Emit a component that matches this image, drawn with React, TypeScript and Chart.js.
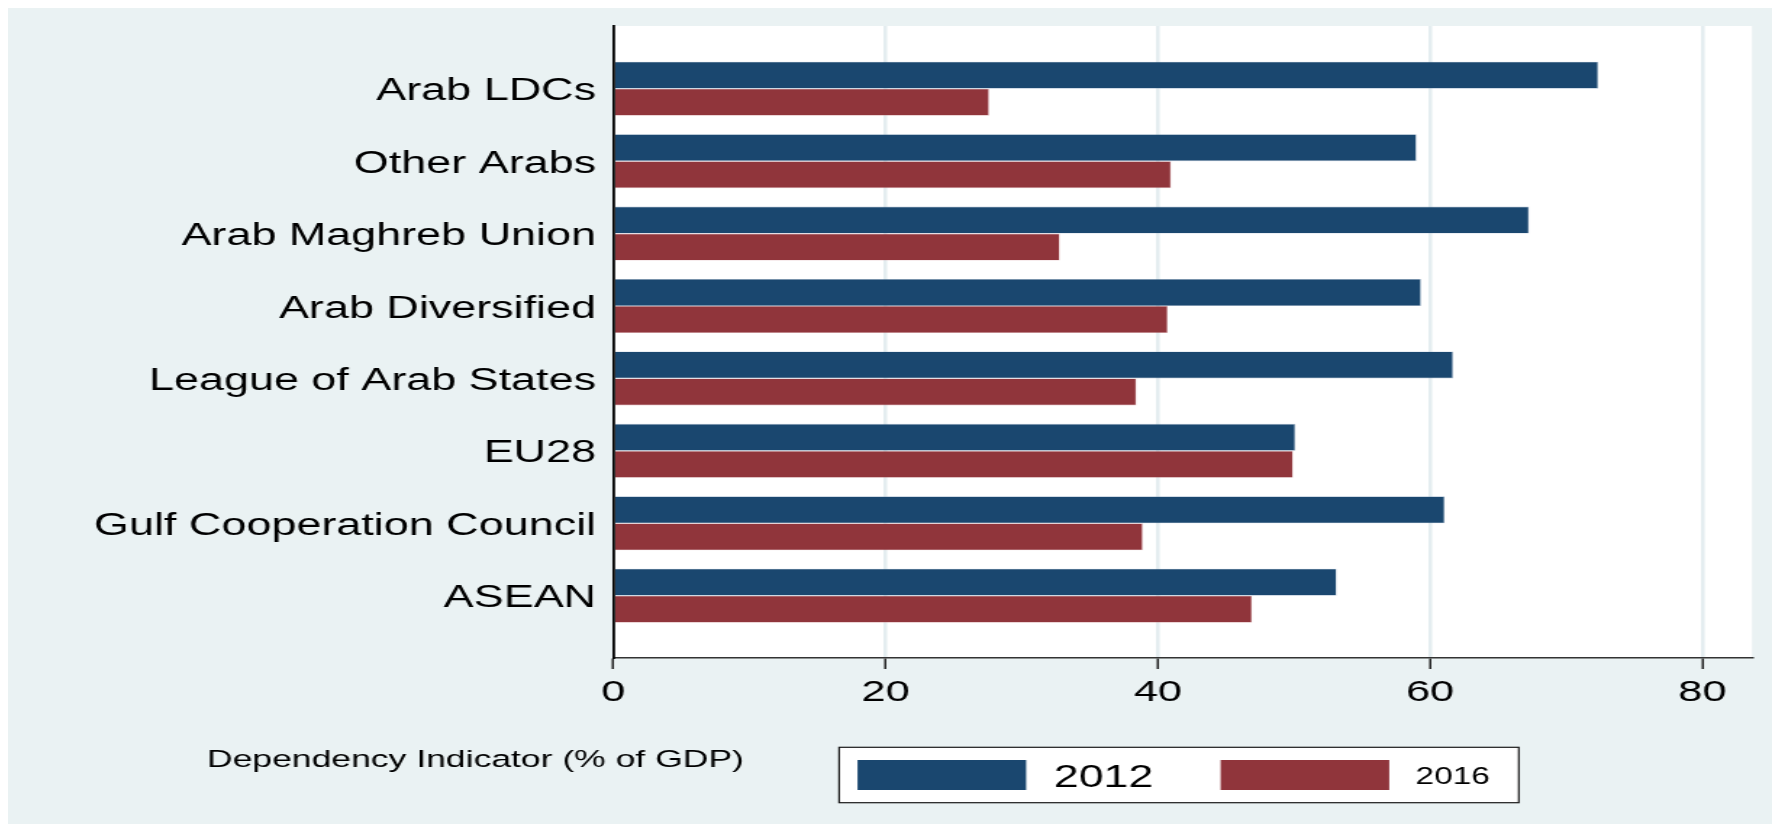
import React, { useEffect, useRef } from "react";
import { Chart, registerables } from "chart.js";

Chart.register(...registerables);

// ---- data ----
const categories = [
  "Arab LDCs",
  "Other Arabs",
  "Arab Maghreb Union",
  "Arab Diversified",
  "League of Arab States",
  "EU28",
  "Gulf Cooperation Council",
  "ASEAN",
];
const values2012 = [72.35, 59.0, 67.27, 59.33, 61.69, 50.1, 61.07, 53.13];
const values2016 = [27.6, 40.97, 32.79, 40.73, 38.42, 49.93, 38.89, 46.92];
const seriesLabels = ["2012", "2016"];
const xTicks = [0, 20, 40, 60, 80];
const axisTitle = "Dependency Indicator (% of GDP)";

// ---- style ----
const FONT = "'Liberation Sans', Arial, Helvetica, sans-serif";
const BG = "rgb(234,242,243)";
const GRID = "rgb(228,237,240)";
const NAVY = "rgb(26,71,111)";
const MAROON = "rgb(144,53,59)";
const LOGICAL_W = 1217;
const LOGICAL_H = 816;
const VISUAL_W = 1764;

const overlayPlugin = {
  id: "overlay",
  beforeDraw(chart: any) {
    const { ctx, chartArea: a, width, height } = chart;
    ctx.save();
    ctx.fillStyle = BG;
    ctx.fillRect(0, 0, width, height);
    ctx.fillStyle = "#ffffff";
    ctx.fillRect(a.left, a.top, a.right - a.left, a.bottom - a.top);
    ctx.restore();
  },
  afterDraw(chart: any) {
    const { ctx } = chart;
    ctx.save();
    // x-axis title
    ctx.fillStyle = "#000";
    ctx.textAlign = "left";
    ctx.textBaseline = "alphabetic";
    ctx.font = `24.5px ${FONT}`;
    ctx.fillText(axisTitle, 137.3, 758.7);

    // legend
    const bx = 573.4, by = 739.3, bw = 468.9, bh = 55.4;
    ctx.fillStyle = "#ffffff";
    ctx.fillRect(bx, by, bw, bh);
    ctx.strokeStyle = "#1a1a1a";
    ctx.lineWidth = 1.2;
    ctx.strokeRect(bx, by, bw, bh);

    const ds = chart.data.datasets;
    const items = [
      { sx: 586.1, tx: 721.6, base: 778.7, size: 30.8 },
      { sx: 836.6, tx: 971.1, base: 776.3, size: 23 },
    ];
    items.forEach((it, i) => {
      ctx.fillStyle = ds[i].backgroundColor;
      ctx.fillRect(it.sx, 752, 116.3, 30);
      ctx.fillStyle = "#000";
      ctx.font = `${it.size}px ${FONT}`;
      ctx.fillText(ds[i].label, it.tx, it.base);
    });
    ctx.restore();
  },
};

export default function App() {
  const ref = useRef<HTMLCanvasElement | null>(null);

  useEffect(() => {
    document.body.style.overflow = "hidden";
    const canvas = ref.current;
    if (!canvas) return;
    const chart = new Chart(canvas, {
      type: "bar",
      data: {
        datasets: [
          {
            label: seriesLabels[0],
            data: values2012.map((v, i) => ({ x: v, y: i })),
            backgroundColor: NAVY,
            borderColor: "rgba(120,150,180,0.6)",
            borderWidth: 0.6,
          },
          {
            label: seriesLabels[1],
            data: values2016.map((v, i) => ({ x: v, y: i })),
            backgroundColor: MAROON,
            borderColor: "rgba(200,130,135,0.6)",
            borderWidth: 0.6,
          },
        ],
      },
      options: {
        indexAxis: "y",
        animation: false,
        responsive: false,
        devicePixelRatio: 1,
        datasets: {
          bar: { categoryPercentage: 0.7456, barPercentage: 1 },
        },
        layout: { padding: { left: 0, right: 13.8, top: 18, bottom: 0 } },
        plugins: {
          legend: { display: false },
          tooltip: { enabled: false },
          title: { display: false },
        },
        scales: {
          x: {
            type: "linear",
            position: "bottom",
            min: 0,
            max: 83.65,
            afterBuildTicks: (scale: any) => {
              scale.ticks = xTicks.map((v) => ({ value: v }));
            },
            afterFit: (scale: any) => {
              scale.height = 166;
            },
            ticks: {
              color: "#000",
              font: { family: FONT, size: 30 },
              padding: 6,
              maxRotation: 0,
              includeBounds: false,
            },
            grid: {
              color: GRID,
              lineWidth: 2.5,
              drawTicks: true,
              tickLength: 11,
              tickColor: "#222",
              tickWidth: 1.5,
            },
            border: { display: true, color: "#333", width: 1.6, z: 1 },
          },
          y: {
            type: "linear",
            reverse: true,
            offset: false,
            min: -0.866,
            max: 7.86,
            afterBuildTicks: (scale: any) => {
              scale.ticks = categories.map((_, i) => ({ value: i }));
            },
            afterFit: (scale: any) => {
              scale.width = 417.7;
              scale.paddingTop = 0;
              scale.paddingBottom = 0;
            },
            ticks: {
              color: "#000",
              font: { family: FONT, size: 31 },
              padding: 12,
              labelOffset: 3,
              stepSize: 1,
              includeBounds: false,
              callback: (value: any) => categories[value as number] ?? "",
            },
            grid: { display: false, drawTicks: false, offset: false },
            border: { display: true, color: "#000", width: 1.8, z: 1 },
          },
        },
      },
      plugins: [overlayPlugin],
    } as any);
    return () => chart.destroy();
  }, []);

  return (
    <div
      style={{
        width: LOGICAL_W,
        height: LOGICAL_H,
        transform: `scaleX(${VISUAL_W / LOGICAL_W})`,
        transformOrigin: "0 0",
      }}
    >
      <canvas
        ref={ref}
        width={LOGICAL_W}
        height={LOGICAL_H}
        style={{ display: "block", width: LOGICAL_W, height: LOGICAL_H }}
      />
    </div>
  );
}
